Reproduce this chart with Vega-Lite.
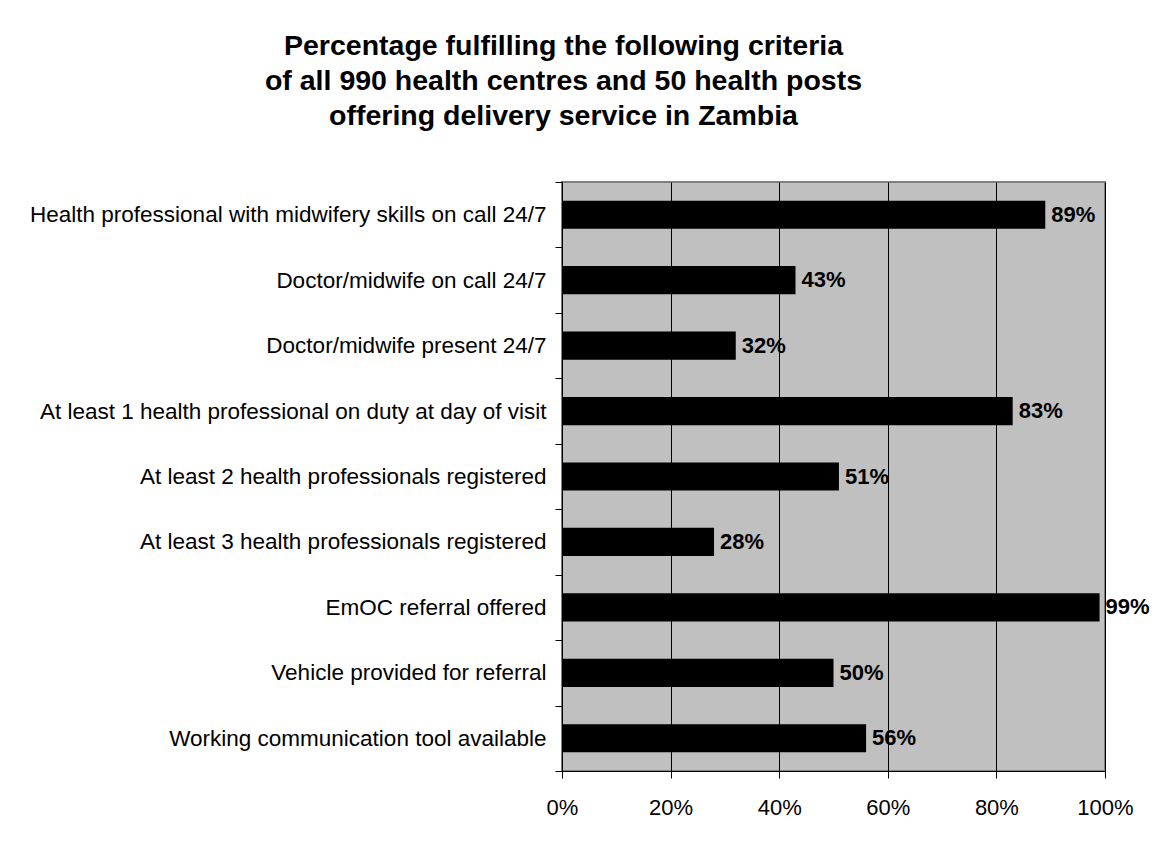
{
  "$schema": "https://vega.github.io/schema/vega-lite/v6.json",
  "width": 543,
  "height": 589,
  "autosize": {"type": "none"},
  "padding": {"left": 562, "top": 182, "right": 55, "bottom": 73},
  "background": "white",
  "title": {
    "text": ["Percentage fulfilling the following criteria", "of all 990 health centres and 50 health posts", "offering delivery service in Zambia"],
    "anchor": "middle",
    "frame": "group",
    "dx": -270,
    "offset": 41,
    "font": "Liberation Sans",
    "fontSize": 28.5,
    "fontWeight": "bold",
    "lineHeight": 35,
    "color": "black"
  },
  "data": {
    "values": [
      {"criterion": "Health professional with midwifery skills on call 24/7", "pct": 0.89},
      {"criterion": "Doctor/midwife on call 24/7", "pct": 0.43},
      {"criterion": "Doctor/midwife present 24/7", "pct": 0.32},
      {"criterion": "At least 1 health professional on duty at day of visit", "pct": 0.83},
      {"criterion": "At least 2 health professionals registered", "pct": 0.51},
      {"criterion": "At least 3 health professionals registered", "pct": 0.28},
      {"criterion": "EmOC referral offered", "pct": 0.99},
      {"criterion": "Vehicle provided for referral", "pct": 0.50},
      {"criterion": "Working communication tool available", "pct": 0.56}
    ]
  },
  "encoding": {
    "y": {
      "field": "criterion",
      "type": "nominal",
      "sort": null,
      "scale": {"paddingInner": 0, "paddingOuter": 0},
      "axis": {
        "title": null,
        "tickBand": "extent",
        "tickSize": 7,
        "tickColor": "black",
        "domainColor": "black",
        "labelFont": "Liberation Sans",
        "labelFontSize": 22.5,
        "labelColor": "black",
        "labelPadding": 9,
        "labelLimit": 700,
        "grid": false
      }
    },
    "x": {
      "field": "pct",
      "type": "quantitative",
      "scale": {"domain": [0, 1], "nice": false},
      "axis": {
        "title": null,
        "format": ".0%",
        "values": [0, 0.2, 0.4, 0.6, 0.8, 1],
        "tickSize": 7,
        "tickColor": "black",
        "domainColor": "black",
        "grid": true,
        "gridColor": "black",
        "gridOpacity": 1,
        "gridWidth": 1,
        "labelFont": "Liberation Sans",
        "labelFontSize": 22,
        "labelColor": "black",
        "labelPadding": 19,
        "labelFlush": false
      }
    }
  },
  "layer": [
    {
      "mark": {"type": "bar", "color": "black", "height": {"band": 0.43}}
    },
    {
      "mark": {"type": "text", "align": "left", "baseline": "middle", "dx": 6, "font": "Liberation Sans", "fontSize": 22, "fontWeight": "bold", "color": "black"},
      "encoding": {"text": {"field": "pct", "type": "quantitative", "format": ".0%"}}
    }
  ],
  "config": {
    "view": {"fill": "#C0C0C0", "stroke": "#808080", "strokeWidth": 2}
  }
}
